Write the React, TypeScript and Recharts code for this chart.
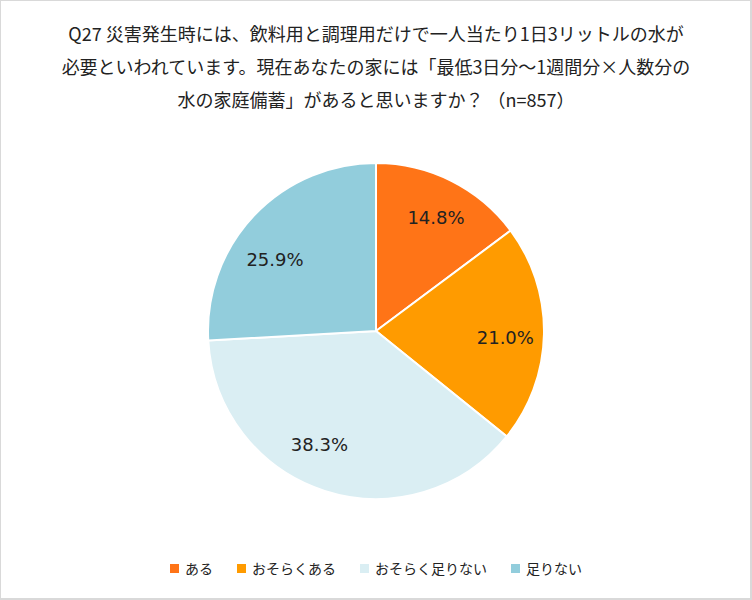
import { Legend, Pie, PieChart, Cell } from "recharts";

const categories = ["ある", "おそらくある", "おそらく足りない", "足りない"];
const shares = [14.8, 21.0, 38.3, 25.9];
const colors = ["#FF7417", "#FF9B00", "#DAEEF3", "#92CDDC"];
const titleLines = [
  "Q27 災害発生時には、飲料用と調理用だけで一人当たり1日3リットルの水が",
  "必要といわれています。現在あなたの家には「最低3日分〜1週間分×人数分の",
  "水の家庭備蓄」があると思いますか？ （n=857）",
];

const data = categories.map((name, i) => ({ name, value: shares[i] }));

const FONT = "'Noto Sans CJK JP', 'Noto Sans', sans-serif";
const RAD = Math.PI / 180;

// Excel "best fit" places the big-slice labels a bit off the mid-angle
const labelNudge = [
  [2, 2],
  [0, 4],
  [-17, -10],
  [-7, 17],
];

const renderLabel = (props: any) => {
  const { cx, cy, midAngle, outerRadius, value, index } = props;
  const r = outerRadius * 0.77;
  const [nx, ny] = labelNudge[index] || [0, 0];
  const x = cx + r * Math.cos(-midAngle * RAD) + nx;
  const y = cy + r * Math.sin(-midAngle * RAD) + ny;
  return (
    <text
      x={x}
      y={y}
      fill="#222"
      fontSize={18}
      fontFamily="'DejaVu Sans', sans-serif"
      textAnchor="middle"
      dominantBaseline="central"
    >
      {value.toFixed(1)}%
    </text>
  );
};

const renderLegend = () => (
  <div
    style={{
      display: "flex",
      justifyContent: "center",
      gap: 24,
      fontFamily: FONT,
      fontSize: 14,
      color: "#222",
    }}
  >
    {categories.map((c, i) => (
      <div key={c} style={{ display: "flex", alignItems: "center" }}>
        <span
          style={{
            display: "inline-block",
            width: 9,
            height: 9,
            background: colors[i],
            marginRight: 6,
          }}
        />
        {c}
      </div>
    ))}
  </div>
);

export default function App() {
  return (
    <div
      style={{
        position: "absolute",
        left: 0,
        top: 0,
        width: 752,
        height: 600,
        boxSizing: "border-box",
        borderStyle: "solid",
        borderColor: "#D9D9D9",
        borderWidth: "1px 2px 2px 1px",
        background: "#fff",
        overflow: "hidden",
      }}
    >
      <div
        style={{
          position: "absolute",
          left: -1,
          top: 16,
          width: 752,
          textAlign: "center",
          fontFamily: FONT,
          fontSize: 18,
          lineHeight: "33px",
          color: "#222",
          zIndex: 1,
        }}
      >
        {titleLines.map((l) => (
          <div key={l}>{l}</div>
        ))}
      </div>
      <div style={{ position: "absolute", left: -1, top: -1 }}>
        <PieChart
          width={752}
          height={600}
          margin={{ top: 0, right: 0, bottom: 0, left: 0 }}
        >
          <Pie
            data={data}
            dataKey="value"
            nameKey="name"
            cx={376}
            cy={331}
            outerRadius={168}
            startAngle={90}
            endAngle={-270}
            stroke="#fff"
            strokeWidth={2}
            label={renderLabel}
            labelLine={false}
            isAnimationActive={false}
          >
            {data.map((d, i) => (
              <Cell key={d.name} fill={colors[i]} />
            ))}
          </Pie>
          <Legend
            content={renderLegend}
            wrapperStyle={{ position: "absolute", top: 558, left: 0, width: 752 }}
          />
        </PieChart>
      </div>
    </div>
  );
}
